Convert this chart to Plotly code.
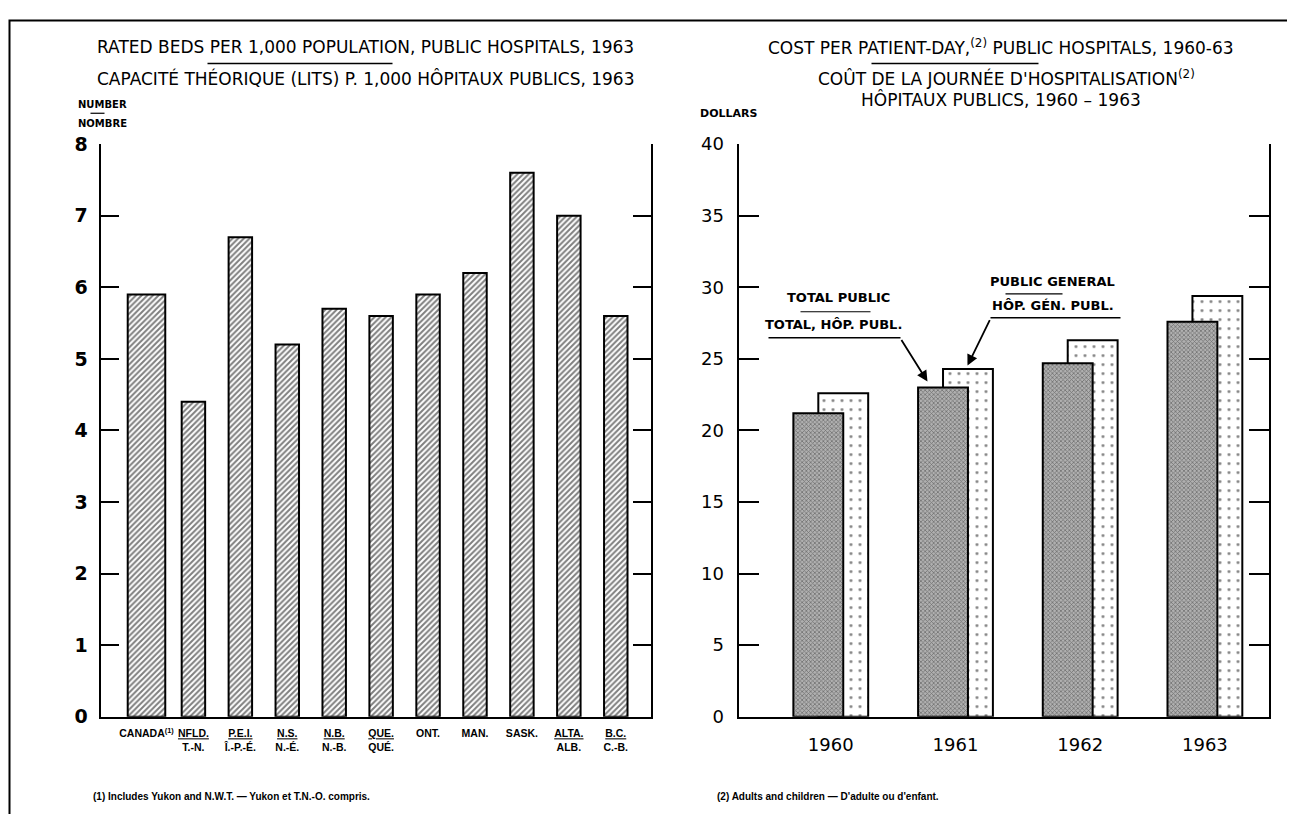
import plotly.graph_objects as go

# ---------------- data ----------------
provinces = ["CANADA", "NFLD.", "P.E.I.", "N.S.", "N.B.", "QUE.", "ONT.", "MAN.", "SASK.", "ALTA.", "B.C."]
province_labels = [
    "CANADA<sup>(1)</sup>", "<u>NFLD.</u><br>T.-N.", "<u>P.E.I.</u><br>Î.-P.-É.", "<u>N.S.</u><br>N.-É.",
    "<u>N.B.</u><br>N.-B.", "<u>QUE.</u><br>QUÉ.", "ONT.", "MAN.", "SASK.", "<u>ALTA.</u><br>ALB.",
    "<u>B.C.</u><br>C.-B.",
]
beds_per_1000 = [5.9, 4.4, 6.7, 5.2, 5.7, 5.6, 5.9, 6.2, 7.6, 7.0, 5.6]
beds_ticks = [0, 1, 2, 3, 4, 5, 6, 7, 8]

years = ["1960", "1961", "1962", "1963"]
cost_total_public = [21.2, 23.0, 24.7, 27.6]
cost_public_general = [22.6, 24.3, 26.3, 29.4]
dollar_ticks = [0, 5, 10, 15, 20, 25, 30, 35, 40]

# ---------------- helpers ----------------
W, H = 1295, 814
FONT = "DejaVu Sans"
FONT2 = "Liberation Sans"


def px(x):
    return (x - 7.5) / W


def py(y):
    return 1 - (y - 17.5) / 794


fig = go.Figure()

# left chart bars
fig.add_trace(go.Bar(
    x=provinces, y=beds_per_1000, xaxis="x", yaxis="y",
    width=[0.8 if p == "CANADA" else 0.5 for p in provinces],
    marker=dict(color="white", line=dict(color="black", width=2),
                pattern=dict(shape="/", fgcolor="black", bgcolor="white", size=4, solidity=0.5)),
    showlegend=False, hoverinfo="skip",
))

# right chart bars (general behind, total in front)
fig.add_trace(go.Bar(
    x=years, y=cost_public_general, xaxis="x2", yaxis="y2", offset=-0.1, width=0.4,
    marker=dict(color="white", line=dict(color="black", width=2),
                pattern=dict(shape=".", fgcolor="black", bgcolor="white", size=9, solidity=0.08)),
    showlegend=False, hoverinfo="skip",
))
fig.add_trace(go.Bar(
    x=years, y=cost_total_public, xaxis="x2", yaxis="y2", offset=-0.3, width=0.4,
    marker=dict(color="#8f8f8f", line=dict(color="black", width=2),
                pattern=dict(shape="x", fgcolor="#333333", bgcolor="#b0b0b0", size=3, solidity=0.45)),
    showlegend=False, hoverinfo="skip",
))

ydom = [py(717), py(143)]
axis_common = dict(showline=True, linewidth=2, linecolor="black", showgrid=False, zeroline=False)

fig.update_layout(
    width=W, height=H,
    margin=dict(l=0, r=0, t=0, b=0),
    paper_bgcolor="white", plot_bgcolor="white",
    barmode="overlay",
    font=dict(family=FONT, color="black"),
    xaxis=dict(domain=[px(100), px(650)], anchor="y", type="category",
               range=[-0.98, 10.74], tickvals=provinces, ticktext=province_labels, tickangle=0,
               ticks="", tickfont=dict(family=FONT2, size=10.5, weight="bold"), ticklabelstandoff=6,
               **axis_common),
    yaxis=dict(domain=ydom, anchor="x", range=[0, 8], tickvals=beds_ticks,
               ticks="inside", ticklen=18, tickwidth=2, tickcolor="black", mirror="ticks",
               tickfont=dict(family=FONT, size=19, weight="bold"), ticklabelstandoff=7,
               **axis_common),
    xaxis2=dict(domain=[px(738), px(1268)], anchor="y2", type="category",
                range=[-0.74, 3.51], tickvals=years, ticktext=years, tickangle=0,
                ticks="", tickfont=dict(family=FONT, size=18), ticklabelstandoff=11,
                **axis_common),
    yaxis2=dict(domain=ydom, anchor="x2", range=[0, 40], tickvals=dollar_ticks,
                ticks="inside", ticklen=20, tickwidth=2, tickcolor="black", mirror="ticks",
                tickfont=dict(family=FONT, size=18), ticklabelstandoff=9,
                **axis_common),
)

ann = []


def text(x, y, s, size=15, xanchor="center", bold=False, family=FONT):
    ann.append(dict(x=px(x), y=py(y), xref="paper", yref="paper", text=s, showarrow=False,
                    xanchor=xanchor, yanchor="middle",
                    font=dict(size=size, family=family, color="black", weight="bold" if bold else "normal")))


text(365, 46, "RATED BEDS PER 1,000 POPULATION, PUBLIC HOSPITALS, 1963", 17)
text(365, 77, "CAPACITÉ THÉORIQUE (LITS) P. 1,000 HÔPITAUX PUBLICS, 1963", 17)
text(75, 103, "NUMBER", 10, "left", True)
text(75, 122, "NOMBRE", 10, "left", True)
text(1000, 46, "COST PER PATIENT-DAY,<sup>(2)</sup> PUBLIC HOSPITALS, 1960-63", 17)
text(1006, 77, "COÛT DE LA JOURNÉE D'HOSPITALISATION<sup>(2)</sup>", 17)
text(1000, 98, "HÔPITAUX PUBLICS, 1960 – 1963", 17)
text(697, 112, "DOLLARS", 11, "left", True)
text(90, 797, "(1) Includes Yukon and N.W.T. — Yukon et T.N.-O. compris.", 10, "left", True, FONT2)
text(714, 797, "(2) Adults and children — D'adulte ou d'enfant.", 10, "left", True, FONT2)
text(838, 297, "TOTAL PUBLIC", 13, "center", True)
text(833, 324, "TOTAL, HÔP. PUBL.", 13, "center", True)
text(1052, 281, "PUBLIC GENERAL", 13, "center", True)
text(1052, 305, "HÔP. GÉN. PUBL.", 13, "center", True)

# arrows
ann.append(dict(x=px(927), y=py(381), xref="paper", yref="paper", ax=-27, ay=-43, text="",
                showarrow=True, arrowhead=2, arrowsize=1.2, arrowwidth=1.8, arrowcolor="black"))
ann.append(dict(x=px(967), y=py(365), xref="paper", yref="paper", ax=23, ay=-47, text="",
                showarrow=True, arrowhead=2, arrowsize=1.2, arrowwidth=1.8, arrowcolor="black"))
fig.update_layout(annotations=ann)

shapes = []


def hline(x0, x1, y, w=1.5):
    shapes.append(dict(type="line", xref="paper", yref="paper", x0=px(x0), x1=px(x1),
                       y0=py(y), y1=py(y), line=dict(color="black", width=w)))


hline(207, 392, 62)
hline(871, 1038, 62)
hline(90, 104, 112, 1.2)
hline(800, 870, 311, 1.2)
hline(768, 900, 337, 1.5)
hline(1005, 1062, 293, 1.2)
hline(990, 1120, 317, 1.5)
# figure frame
shapes.append(dict(type="rect", xref="paper", yref="paper", x0=px(9), x1=px(1293), y0=py(840), y1=0.998,
                   line=dict(color="black", width=2)))
fig.update_layout(shapes=shapes)

fig.write_html("out.html")
